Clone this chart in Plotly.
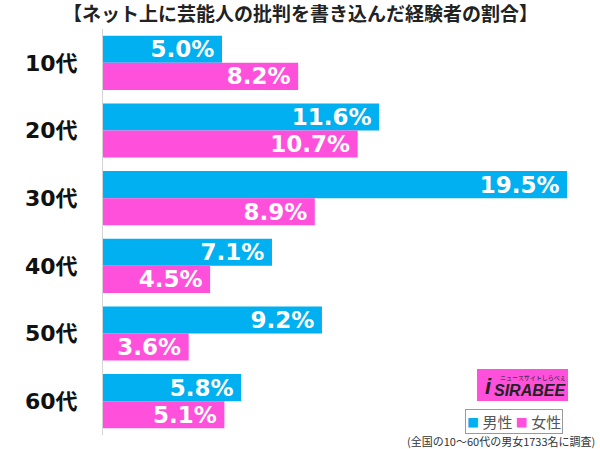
import plotly.graph_objects as go

categories = ["10代", "20代", "30代", "40代", "50代", "60代"]
male = [5.0, 11.6, 19.5, 7.1, 9.2, 5.8]
female = [8.2, 10.7, 8.9, 4.5, 3.6, 5.1]
series_names = ["男性", "女性"]
title_text = "【ネット上に芸能人の批判を書き込んだ経験者の割合】"
note_text = "(全国の10～60代の男女1733名に調査)"

BLUE = "#00B0F0"
PINK = "#FF50DC"

W, H = 600, 449
L, R, T, B = 103, 10, 29, 14
PW, PH = W - L - R, H - T - B


def xp(px):
    return (px - L) / PW


def yp(py):
    return (H - B - py) / PH


LABEL_FONT = "DejaVu Sans, Noto Sans CJK JP, sans-serif"
LOGO_FONT = "Liberation Sans, Arial, sans-serif"
CJK_FONT = "Noto Sans CJK JP, sans-serif"

fig = go.Figure()
for name, vals, col in [(series_names[0], male, BLUE), (series_names[1], female, PINK)]:
    fig.add_trace(go.Bar(
        y=categories, x=vals, name=name, orientation="h",
        marker=dict(color=col, line=dict(width=0)),
        text=[f"<b>{v:.1f}%</b>\u2009" for v in vals],
        textposition="inside", insidetextanchor="end", textangle=0,
        constraintext="none",
        textfont=dict(color="white", size=23, family=LABEL_FONT),
        showlegend=False,
    ))

fig.update_layout(
    width=W, height=H,
    margin=dict(l=L, r=R, t=T, b=B),
    paper_bgcolor="white", plot_bgcolor="white",
    barmode="group", bargap=0.2, bargroupgap=0,
    xaxis=dict(range=[0, PW / 23.8], showgrid=False, zeroline=False,
               showticklabels=False, ticks="", showline=False),
    yaxis=dict(autorange="reversed", showgrid=False, zeroline=False,
               showline=True, linecolor="#d4d4d4", linewidth=1,
               ticks="", ticklabelstandoff=20,
               tickfont=dict(size=22, color="#111", family=LABEL_FONT, weight="bold")),
    font=dict(family=CJK_FONT),
)

# title
fig.add_annotation(text=f"<b>{title_text}</b>", xref="paper", yref="paper",
                   x=xp(300), y=yp(12), xanchor="center", yanchor="middle",
                   showarrow=False, font=dict(size=19, color="#222", family=CJK_FONT))

# logo
fig.add_shape(type="rect", xref="paper", yref="paper",
              x0=xp(477), x1=xp(568), y0=yp(401), y1=yp(369),
              fillcolor="#FF50DC", line=dict(width=0), layer="above")
fig.add_annotation(text="<b><i>i</i></b>", xref="paper", yref="paper",
                   x=xp(488), y=yp(386), xanchor="center", yanchor="middle",
                   showarrow=False, font=dict(size=22, color="#222", family=LOGO_FONT))
fig.add_annotation(text="<b><i>SIRABEE</i></b>", xref="paper", yref="paper",
                   x=xp(530), y=yp(390), xanchor="center", yanchor="middle",
                   showarrow=False, font=dict(size=16, color="#222", family=LOGO_FONT))
fig.add_annotation(text="ニュースサイトしらべぇ", xref="paper", yref="paper",
                   x=xp(533), y=yp(377), xanchor="center", yanchor="middle",
                   showarrow=False, font=dict(size=6, color="#222", family=CJK_FONT))

# legend
fig.add_annotation(
    text=f"<span style='color:{BLUE};font-size:12px'>■</span> {series_names[0]} <span style='color:{PINK};font-size:12px'>■</span> {series_names[1]}",
    xref="paper", yref="paper", x=xp(514), y=yp(421), xanchor="center", yanchor="middle",
    showarrow=False, font=dict(size=15, color="#555", family=CJK_FONT),
    bordercolor="#999", borderwidth=1, borderpad=1, bgcolor="white")

# note
fig.add_annotation(text=note_text, xref="paper", yref="paper",
                   x=xp(597), y=yp(441), xanchor="right", yanchor="middle",
                   showarrow=False, font=dict(size=11, color="#333", family=CJK_FONT))

fig.write_html("out.html", config={"displayModeBar": False},
               post_script="document.body.style.margin='0';document.body.style.padding='0';")
